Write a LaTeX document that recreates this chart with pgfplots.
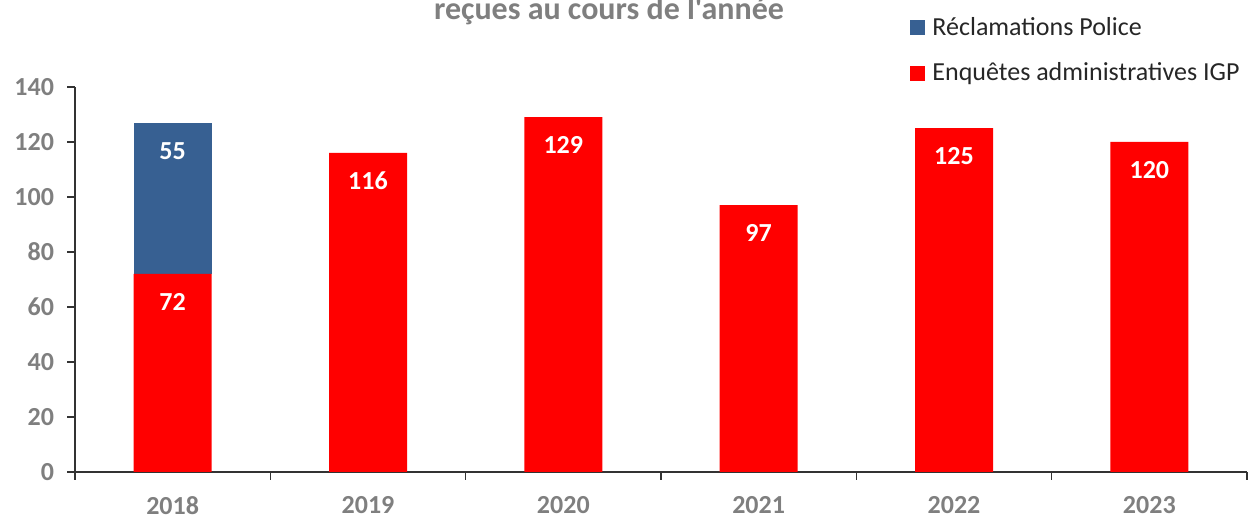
\documentclass[border=0pt]{standalone}
\usepackage{pgfplots}
\pgfplotsset{compat=1.18}
\usepackage{fontspec}
\setmainfont{Carlito}
\newfontfamily\titlefont{Carlito}[Ligatures=TeXOff]
\definecolor{bleu}{HTML}{376092}
\definecolor{rouge}{HTML}{FF0000}
\definecolor{gristick}{HTML}{7F7F7F}
\definecolor{legtext}{HTML}{262626}
\begin{document}
\begin{tikzpicture}
\begin{axis}[name=ax, scale only axis, width=586pt, height=192.5pt,
  ybar stacked, bar width=39pt,
  xmin=-0.5, xmax=5.5, ymin=0, ymax=140,
  ytick={0,20,...,140},
  xtick={-0.5,0.5,...,5.5}, xticklabels={},
  extra x ticks={0,1,2,3,4,5},
  extra x tick labels={2018,2019,2020,2021,2022,2023},
  extra x tick style={major tick length=0pt, tick label style={yshift=-8.5pt}},
  axis lines*=left,
  axis line style={black!80, line width=0.6pt},
  tick style={black!80, line width=0.6pt},
  tick align=outside, major tick length=4pt,
  /pgf/number format/assume math mode=true,
  tick label style={font=\fontsize{13}{15}\selectfont\bfseries, text=gristick},
  yticklabel style={xshift=-3pt},
  visualization depends on={rawy \as \rawy},
  nodes near coords={\pgfmathfloatifflags{\pgfplotspointmeta}{0}{}{\pgfmathprintnumber{\pgfplotspointmeta}}},
  nodes near coords style={font=\fontsize{13}{15}\selectfont\bfseries, text=white, anchor=center, yshift=0.6875*\rawy*1pt-14pt},
  legend style={at={(axis description cs:0.7125,1.192)}, anchor=north west, draw=none, fill=none,
    font=\fontsize{13}{15}\selectfont, text=legtext, row sep=8pt, inner sep=0pt,
    /tikz/every odd column/.append style={column sep=1.5pt}},
  legend cell align=left,
  reverse legend,
  legend image code/.code={\fill[#1] (0pt,-3.75pt) rectangle (7.5pt,3.75pt);},
]
\addplot[fill=rouge, draw=none] coordinates {(0,72) (1,116) (2,129) (3,97) (4,125) (5,120)};
\addplot[fill=bleu, draw=none] coordinates {(0,55) (1,0) (2,0) (3,0) (4,0) (5,0)};
\legend{Enquêtes administratives IGP, Réclamations Police}
\end{axis}
\node[anchor=base, font=\titlefont\fontsize{16}{19}\selectfont\bfseries, text=gristick] at ([shift={(267pt,226pt)}]ax.south west) {reçues au cours de l'année};
\pgfresetboundingbox
\path (ax.south west) ++(-37.5pt,-23pt) rectangle ++(626pt,259pt);
\end{tikzpicture}
\end{document}
